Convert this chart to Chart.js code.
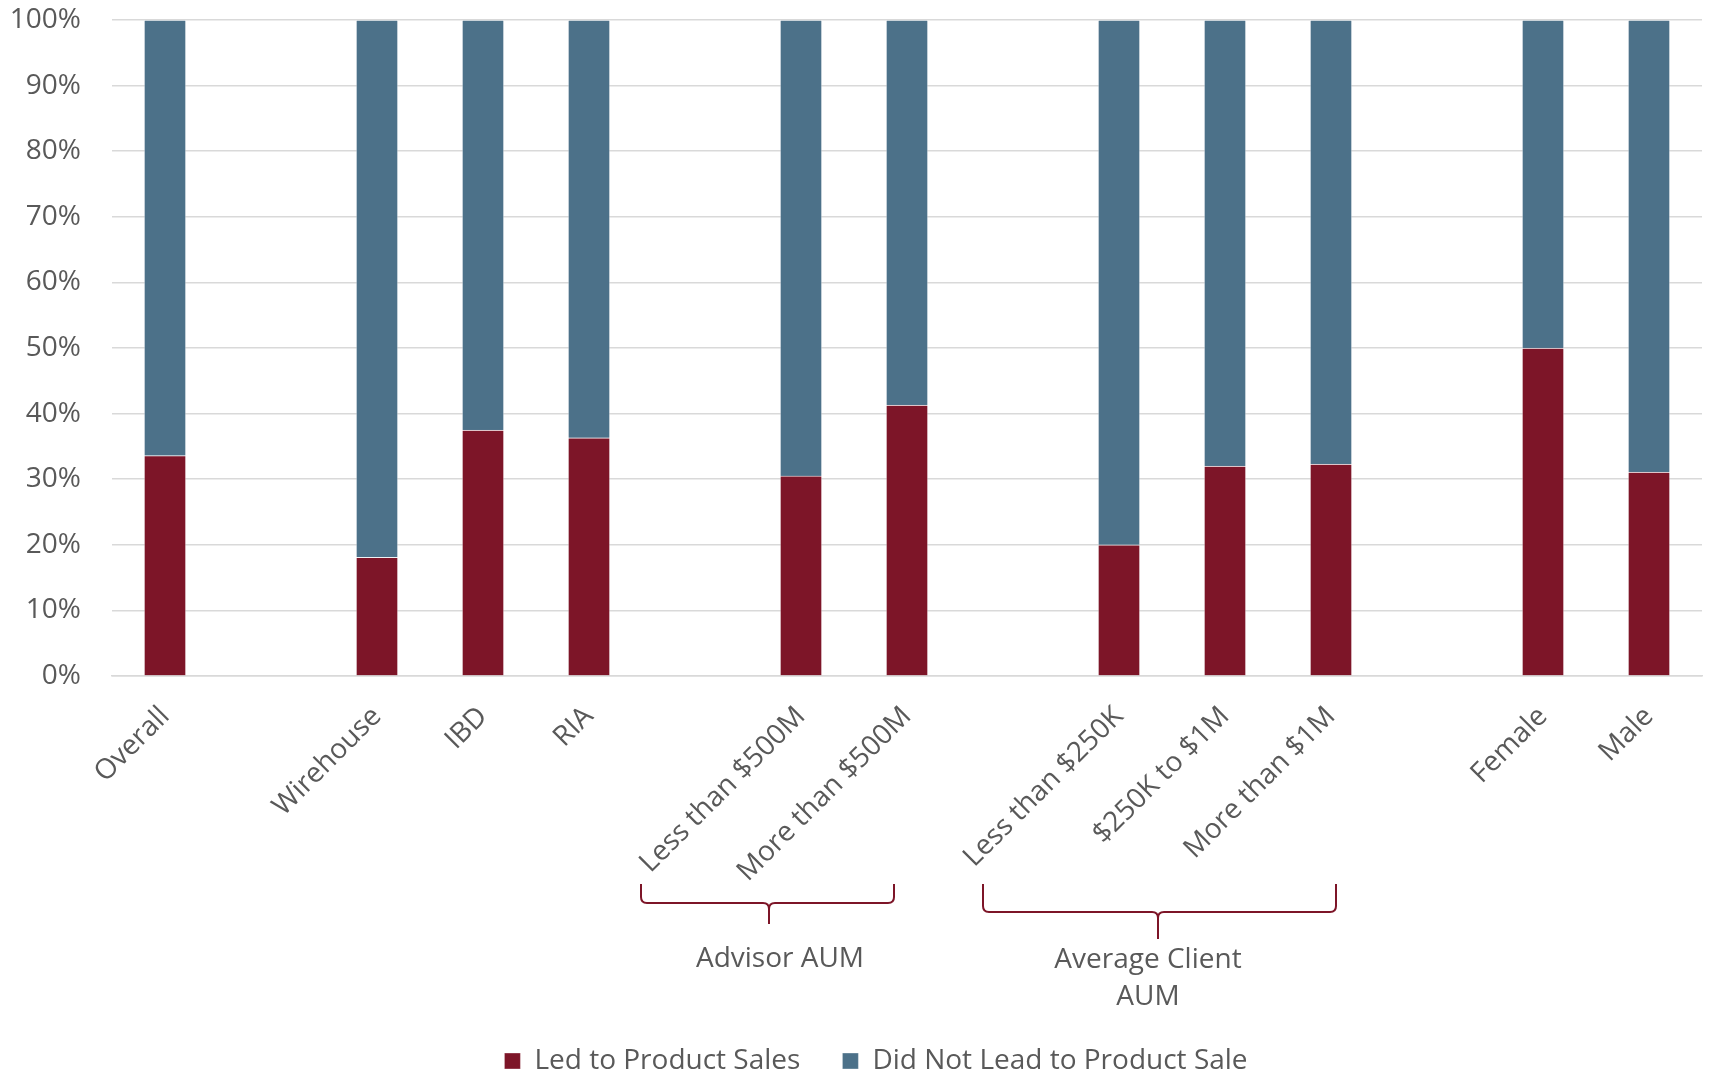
<!DOCTYPE html>
<html>
<head>
<meta charset="utf-8">
<title>Product Sales</title>
<script src="https://cdn.jsdelivr.net/npm/chart.js@4.4.1/dist/chart.umd.min.js"></script>
<style>
  html, body { margin: 0; padding: 0; background: #fff; }
  #wrap { width: 1710px; height: 1072px; position: relative; }
</style>
</head>
<body>
<div id="wrap"><canvas id="grafico"></canvas></div>
<script>
// categorias (as vazias separam os grupos)
const categorias = ['Overall', '', 'Wirehouse', 'IBD', 'RIA', '',
  'Less than $500M', 'More than $500M', '',
  'Less than $250K', '$250K to $1M', 'More than $1M', '',
  'Female', 'Male'];

const ledToSales = [33.6, null, 18.1, 37.5, 36.3, null, 30.5, 41.3, null, 20.0, 32.0, 32.3, null, 50.0, 31.1];
const didNotLead = [66.4, null, 81.9, 62.5, 63.7, null, 69.5, 58.7, null, 80.0, 68.0, 67.7, null, 50.0, 68.9];

const yTicks = [0, 10, 20, 30, 40, 50, 60, 70, 80, 90, 100];

const CINZA = '#595959';
const VINHO = '#7D1528';
const AZUL = '#4C7189';
const FONTE = "'Open Sans', sans-serif";

// chaves e rotulos dos grupos abaixo do eixo
const chaves = [
  { x0: 641, x1: 894, topo: 884, linha: 903, meio: 769, ponta: 924 },
  { x0: 983, x1: 1336, topo: 884, linha: 912, meio: 1158, ponta: 939 }
];
const rotulosGrupo = [
  { x: 780, linhas: ['Advisor AUM'], y: 959 },
  { x: 1148, linhas: ['Average Client', 'AUM'], y: 960 }
];

const chavesPlugin = {
  id: 'chaves',
  afterLayout(chart) {
    // legenda um pouco mais a direita e mais baixa
    const lg = chart.legend;
    lg.left += 25; lg.right += 25;
    lg.top += 13; lg.bottom += 13;
  },
  afterDraw(chart) {
    const ctx = chart.ctx;
    ctx.save();
    ctx.strokeStyle = VINHO;
    ctx.lineWidth = 2;
    chaves.forEach(c => {
      const r = 6;
      ctx.beginPath();
      ctx.moveTo(c.x0, c.topo);
      ctx.lineTo(c.x0, c.linha - r);
      ctx.quadraticCurveTo(c.x0, c.linha, c.x0 + r, c.linha);
      ctx.lineTo(c.meio - r, c.linha);
      ctx.quadraticCurveTo(c.meio, c.linha, c.meio, c.linha + r);
      ctx.lineTo(c.meio, c.ponta);
      ctx.moveTo(c.meio, c.linha + r);
      ctx.quadraticCurveTo(c.meio, c.linha, c.meio + r, c.linha);
      ctx.lineTo(c.x1 - r, c.linha);
      ctx.quadraticCurveTo(c.x1, c.linha, c.x1, c.linha - r);
      ctx.lineTo(c.x1, c.topo);
      ctx.stroke();
    });
    ctx.fillStyle = CINZA;
    ctx.font = '28px ' + FONTE;
    ctx.textAlign = 'center';
    ctx.textBaseline = 'middle';
    rotulosGrupo.forEach(g => {
      g.linhas.forEach((t, i) => ctx.fillText(t, g.x, g.y + i * 37));
    });
    ctx.restore();
  }
};

Chart.defaults.font.family = FONTE;
Chart.defaults.font.size = 28;
Chart.defaults.color = CINZA;

new Chart(document.getElementById('grafico'), {
  type: 'bar',
  data: {
    labels: categorias,
    datasets: [
      {
        label: 'Led to Product Sales',
        data: ledToSales,
        backgroundColor: VINHO,
        borderColor: 'rgba(255,255,255,0.35)',
        borderWidth: 1,
        barThickness: 42
      },
      {
        label: 'Did Not Lead to Product Sale',
        data: didNotLead,
        backgroundColor: AZUL,
        borderColor: 'rgba(255,255,255,0.35)',
        borderWidth: 1,
        barThickness: 42
      }
    ]
  },
  options: {
    responsive: true,
    maintainAspectRatio: false,
    animation: false,
    layout: { padding: { top: 20, right: 8, bottom: 0, left: 0 } },
    plugins: {
      tooltip: { enabled: false },
      legend: {
        position: 'bottom',
        labels: {
          boxWidth: 16,
          boxHeight: 16,
          padding: 42,
          color: CINZA,
          font: { size: 28 }
        }
      }
    },
    scales: {
      x: {
        stacked: true,
        grid: { display: false },
        border: { display: true, color: '#d9d9d9', width: 1.5 },
        ticks: {
          autoSkip: false,
          minRotation: 45,
          maxRotation: 45,
          padding: 16,
          color: CINZA
        },
        afterFit: scale => { scale.height = 316; }
      },
      y: {
        stacked: true,
        min: 0,
        max: 100,
        afterBuildTicks: scale => { scale.ticks = yTicks.map(v => ({ value: v })); },
        grid: { color: '#d9d9d9', lineWidth: 1.5, drawTicks: false },
        border: { display: false },
        ticks: {
          padding: 31,
          color: CINZA,
          callback: v => v + '%'
        },
        afterFit: scale => {
          scale.width = 112;
          scale.paddingTop = 0;
          scale.paddingBottom = 0;
        }
      }
    }
  },
  plugins: [chavesPlugin]
});
</script>
</body>
</html>
